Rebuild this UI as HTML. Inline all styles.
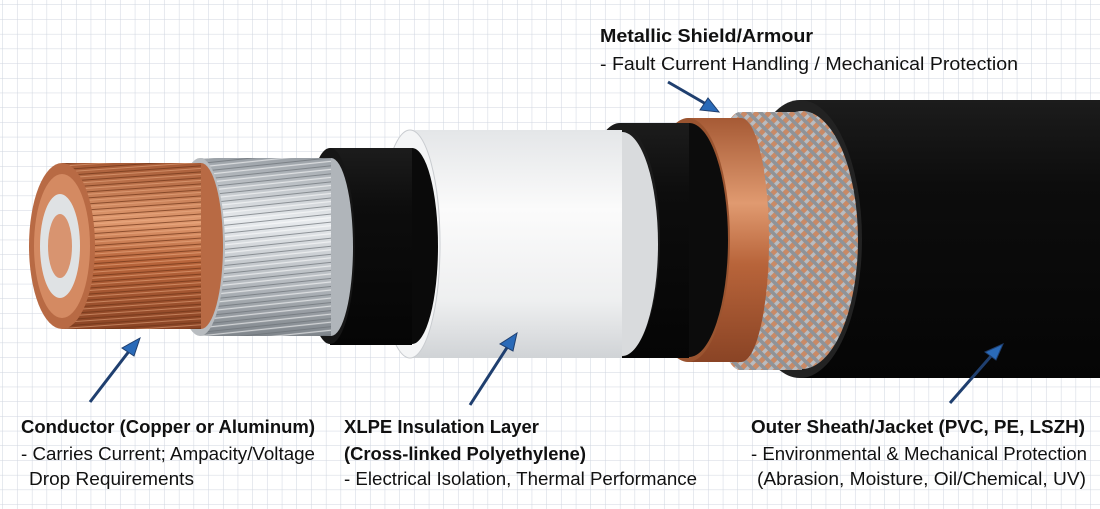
<!DOCTYPE html>
<html><head><meta charset="utf-8"><style>
html,body{margin:0;padding:0;background:#fff}
svg{display:block}
text{font-family:"Liberation Sans",sans-serif;fill:#111}
</style></head><body>
<svg width="1100" height="509" viewBox="0 0 1100 509" xmlns="http://www.w3.org/2000/svg">
<defs>
<pattern id="grid" width="14.7" height="14.7" patternUnits="userSpaceOnUse" x="3" y="5">
<path d="M14.7 0V14.7M0 14.7H14.7" fill="none" stroke="#cfd5df" stroke-width="1"/>
</pattern>
<linearGradient id="blk" x1="0" y1="0" x2="0" y2="1">
<stop offset="0" stop-color="#1c1c1c"/><stop offset="0.3" stop-color="#0d0d0d"/><stop offset="1" stop-color="#050505"/></linearGradient>
<linearGradient id="cu" x1="0" y1="0" x2="0" y2="1">
<stop offset="0" stop-color="#a65a35"/><stop offset="0.35" stop-color="#e09a70"/><stop offset="0.6" stop-color="#b8643a"/><stop offset="1" stop-color="#8a4425"/></linearGradient>
<linearGradient id="al" x1="0" y1="0" x2="0" y2="1">
<stop offset="0" stop-color="#9aa0a6"/><stop offset="0.35" stop-color="#e8ebee"/><stop offset="0.7" stop-color="#b4b9be"/><stop offset="1" stop-color="#80868c"/></linearGradient>
<linearGradient id="wh" x1="0" y1="0" x2="0" y2="1">
<stop offset="0" stop-color="#e4e6e8"/><stop offset="0.35" stop-color="#fbfbfb"/><stop offset="0.75" stop-color="#eeeff0"/><stop offset="1" stop-color="#d0d3d6"/></linearGradient>
<pattern id="strCu" width="40" height="6" patternUnits="userSpaceOnUse" patternTransform="rotate(-4)">
<path d="M0 5.5H40" stroke="#6e3418" stroke-width="1" opacity="0.7"/><path d="M0 2H40" stroke="#f0b48c" stroke-width="1" opacity="0.5"/></pattern>
<pattern id="strAl" width="40" height="8" patternUnits="userSpaceOnUse" patternTransform="rotate(-6)">
<path d="M0 7.5H40" stroke="#6c7278" stroke-width="1" opacity="0.7"/><path d="M0 3H40" stroke="#ffffff" stroke-width="1.2" opacity="0.6"/></pattern>
<pattern id="braid" width="12" height="12" patternUnits="userSpaceOnUse">
<rect width="12" height="12" fill="#c98a66"/>
<path d="M-3 3L3 -3M0 12L12 0M9 15L15 9" stroke="#b9bcc0" stroke-width="3.6"/>
<path d="M-3 9L3 15M0 0L12 12M9 -3L15 3" stroke="#8f9398" stroke-width="3.6"/>
</pattern>
</defs>
<rect width="1100" height="509" fill="#fff"/>
<rect width="1100" height="509" fill="url(#grid)"/>

<!-- outer sheath -->
<rect x="800" y="100" width="300" height="278" fill="url(#blk)"/>
<ellipse cx="800" cy="239" rx="62" ry="139" fill="#222"/>
<ellipse cx="802" cy="240" rx="56" ry="129" fill="url(#braid)"/>
<!-- braid -->
<rect x="740" y="112" width="62" height="258" fill="url(#braid)"/>
<ellipse cx="740" cy="241" rx="30" ry="129" fill="url(#braid)"/>
<ellipse cx="741" cy="240" rx="28" ry="122" fill="url(#cu)"/>
<!-- copper tape -->
<rect x="688" y="118" width="53" height="244" fill="url(#cu)"/>
<ellipse cx="688" cy="240" rx="42" ry="122" fill="#9a5430"/>
<ellipse cx="689" cy="240" rx="39" ry="117" fill="#0c0c0c"/>
<!-- semicon black -->
<rect x="620" y="123" width="69" height="235" fill="url(#blk)"/>
<ellipse cx="620" cy="240" rx="40" ry="117" fill="#1b1b1b"/>
<ellipse cx="622" cy="244" rx="36" ry="112" fill="#d9dbdd"/>
<!-- XLPE -->
<rect x="410" y="130" width="212" height="228" fill="url(#wh)"/>
<ellipse cx="410" cy="244" rx="30" ry="114" fill="#f4f5f6" stroke="#c9ccd0"/>
<ellipse cx="412" cy="246" rx="26" ry="98" fill="#0a0a0a"/>
<!-- inner black -->
<rect x="330" y="148" width="82" height="197" fill="url(#blk)"/>
<ellipse cx="330" cy="246" rx="25" ry="98" fill="#161616"/>
<ellipse cx="331" cy="247" rx="22" ry="89" fill="#b0b5ba"/>
<!-- aluminium -->
<rect x="200" y="158" width="131" height="178" fill="url(#al)"/>
<rect x="200" y="158" width="131" height="178" fill="url(#strAl)"/>
<ellipse cx="200" cy="247" rx="25" ry="89" fill="#b8bcc0"/>
<ellipse cx="201" cy="246" rx="22" ry="83" fill="#b86a44"/>
<!-- copper -->
<rect x="62" y="163" width="139" height="166" fill="url(#cu)"/>
<rect x="62" y="163" width="139" height="166" fill="url(#strCu)"/>
<ellipse cx="62" cy="246" rx="33" ry="83" fill="#b86a44"/>
<ellipse cx="62" cy="246" rx="28" ry="72" fill="#d48a62"/>
<ellipse cx="60" cy="246" rx="20" ry="52" fill="#dfe2e4"/>
<ellipse cx="60" cy="246" rx="12" ry="32" fill="#d89470"/>

<!-- arrows -->
<g stroke="#1f3f6f" stroke-width="3" fill="#2a6ab8">
<line x1="90" y1="402" x2="130" y2="350"/><polygon points="140,338 122,348 134,356" stroke-width="1"/>
<line x1="470" y1="405" x2="508" y2="346"/><polygon points="517,333 500,344 513,351" stroke-width="1"/>
<line x1="668" y1="82" x2="706" y2="104"/><polygon points="719,112 700,110 708,98" stroke-width="1"/>
<line x1="950" y1="403" x2="992" y2="355"/><polygon points="1003,344 985,352 996,360" stroke-width="1"/>
</g>

<!-- labels -->
<text x="600" y="42" font-size="18" font-weight="bold" textLength="213" lengthAdjust="spacingAndGlyphs">Metallic Shield/Armour</text>
<text x="600" y="70" font-size="18" textLength="418" lengthAdjust="spacingAndGlyphs">- Fault Current Handling / Mechanical Protection</text>

<text x="21" y="433" font-size="18" font-weight="bold" textLength="294" lengthAdjust="spacingAndGlyphs">Conductor (Copper or Aluminum)</text>
<text x="21" y="460" font-size="18" textLength="294" lengthAdjust="spacingAndGlyphs">- Carries Current; Ampacity/Voltage</text>
<text x="29" y="485" font-size="18" textLength="165" lengthAdjust="spacingAndGlyphs">Drop Requirements</text>

<text x="344" y="433" font-size="18" font-weight="bold" textLength="195" lengthAdjust="spacingAndGlyphs">XLPE Insulation Layer</text>
<text x="344" y="460" font-size="18" font-weight="bold" textLength="242" lengthAdjust="spacingAndGlyphs">(Cross-linked Polyethylene)</text>
<text x="344" y="485" font-size="18" textLength="353" lengthAdjust="spacingAndGlyphs">- Electrical Isolation, Thermal Performance</text>

<text x="751" y="433" font-size="18" font-weight="bold" textLength="334" lengthAdjust="spacingAndGlyphs">Outer Sheath/Jacket (PVC, PE, LSZH)</text>
<text x="751" y="460" font-size="18" textLength="336" lengthAdjust="spacingAndGlyphs">- Environmental &amp; Mechanical Protection</text>
<text x="757" y="485" font-size="18" textLength="329" lengthAdjust="spacingAndGlyphs">(Abrasion, Moisture, Oil/Chemical, UV)</text>
</svg>
</body></html>
